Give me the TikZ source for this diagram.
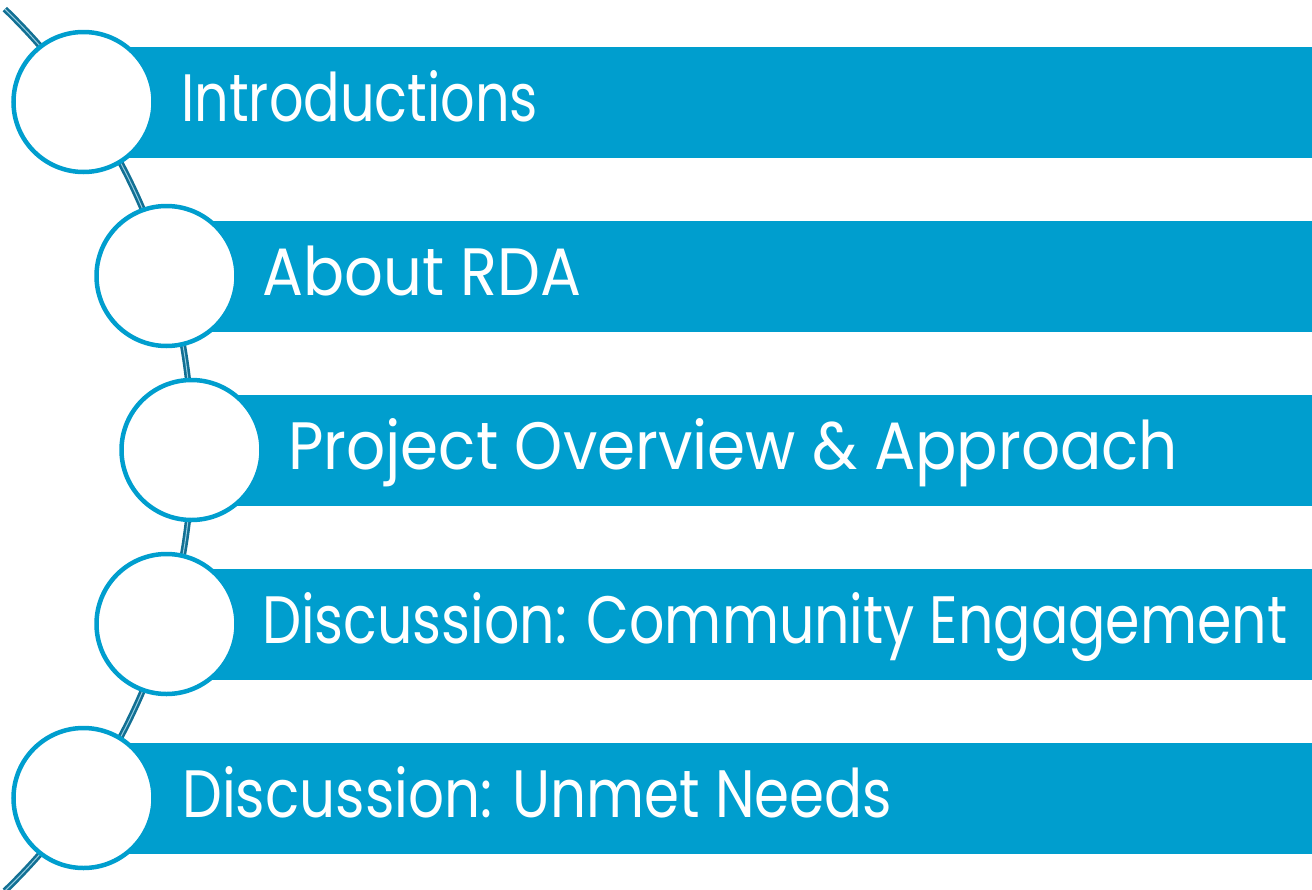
\documentclass[tikz,border=0pt]{standalone}
\usepackage{fontspec}
\usepackage{graphicx}
\setmainfont{Poppins}
\definecolor{barblue}{RGB}{0,158,206}
\definecolor{arcdark}{RGB}{18,112,148}
\definecolor{arclight}{RGB}{150,205,225}
\tikzset{
  bar/.style={fill=barblue, draw=none},
  dot/.style={circle, fill=white, draw=barblue, line width=4.5pt, minimum size=140pt, inner sep=0pt},
  label/.style={anchor=base west, inner sep=0pt, text=white, font=\fontsize{67}{72}\selectfont},
  arcline/.style={draw=arcdark, double=arclight, line width=2.6pt, double distance=1pt}
}
\begin{document}
\begin{tikzpicture}[x=1pt,y=-1pt]
\useasboundingbox (0,0) rectangle (1312,889);
% spine arc
\draw[arcline] ([shift={(-421,450)}]-46:613) arc[start angle=-46, end angle=46, radius=613];
% bars
\fill[bar] (83.5,46.5) rectangle (1312,157.5);
\fill[bar] (166.5,220.5) rectangle (1312,331.5);
\fill[bar] (191.5,394.5) rectangle (1312,505.5);
\fill[bar] (166.5,568.5) rectangle (1312,679.5);
\fill[bar] (83.5,742.5) rectangle (1312,853.5);
% circles
\node[dot] (c1) at (83.5,102) {};
\node[dot] (c2) at (166.5,276) {};
\node[dot] (c3) at (191.5,450) {};
\node[dot] (c4) at (166.5,624) {};
\node[dot] (c5) at (83.5,798) {};
% labels
\node[label] (t1) at (181,121.5) {\resizebox{357pt}{\height}{Introductions}};
\node[label] (t2) at (262,295) {\resizebox{319pt}{\height}{About RDA}};
\node[label] (t3) at (288,469.5) {\resizebox{890pt}{\height}{Project Overview \& Approach}};
\node[label] (t4) at (262,643) {\resizebox{1025pt}{\height}{Discussion: Community Engagement}};
\node[label] (t5) at (182,817.5) {\resizebox{710pt}{\height}{Discussion: Unmet Needs}};
\end{tikzpicture}
\end{document}
